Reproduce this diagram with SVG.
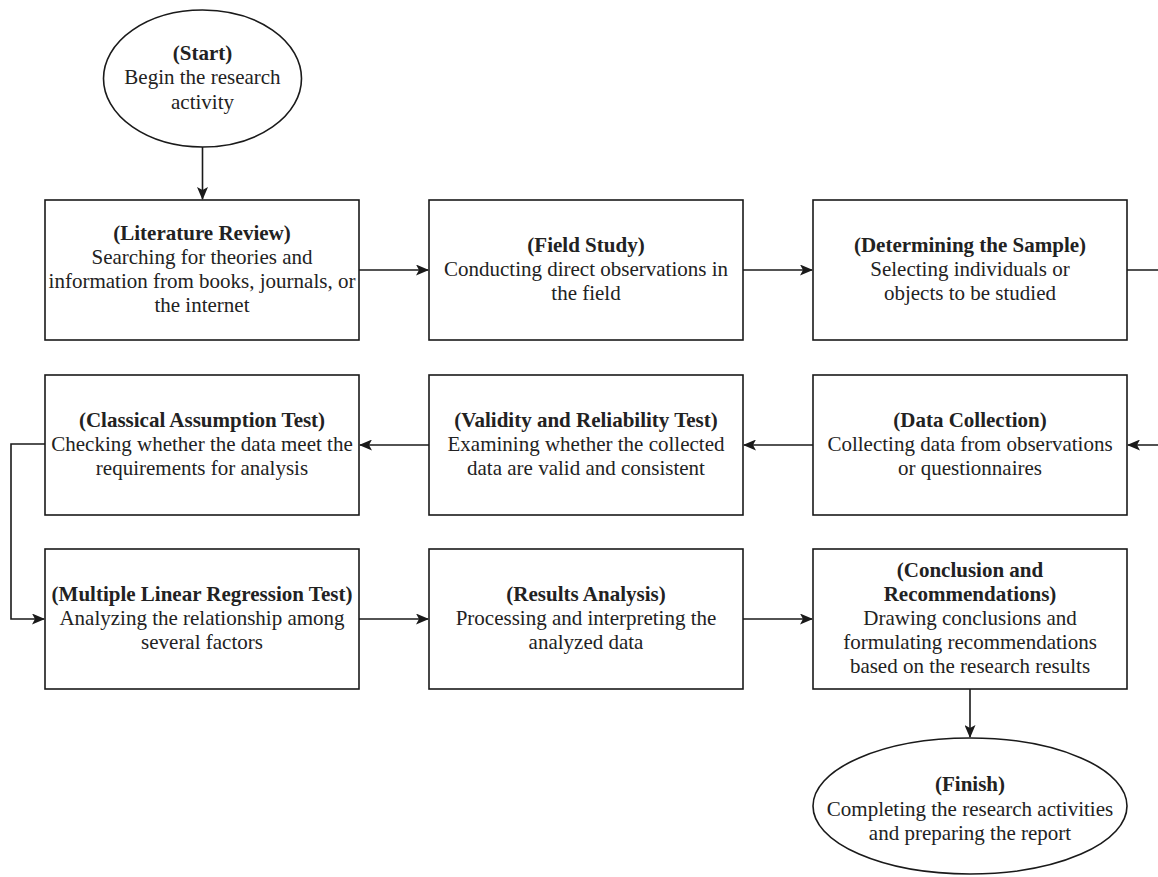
<svg xmlns="http://www.w3.org/2000/svg" width="1158" height="877" viewBox="0 0 1158 877">
<defs>
<style>
.shape{fill:#fff;stroke:#1a1a1a;stroke-width:1.6}
.conn{fill:none;stroke:#1a1a1a;stroke-width:1.6}
text{font-family:"Liberation Serif","Times New Roman",serif;font-size:21px;fill:#222;text-anchor:middle}
.b{font-weight:bold}
</style>
<marker id="arr" viewBox="0 0 13 11" refX="12" refY="5.5" markerWidth="13" markerHeight="11" markerUnits="userSpaceOnUse" orient="auto">
<path d="M0,0 L13,5.5 L0,11 L3,5.5 Z" fill="#1a1a1a"/>
</marker>
</defs>
<rect width="1158" height="877" fill="#fff"/>
<g id="connectors">
<path class="conn" d="M202.5,147 V199" marker-end="url(#arr)"/>
<path class="conn" d="M359,270 H428" marker-end="url(#arr)"/>
<path class="conn" d="M743,270 H812" marker-end="url(#arr)"/>
<path class="conn" d="M1127,270 H1175 V445 H1128" marker-end="url(#arr)"/>
<path class="conn" d="M813,445 H744" marker-end="url(#arr)"/>
<path class="conn" d="M429,445 H360" marker-end="url(#arr)"/>
<path class="conn" d="M45,444 H11 V619 H44" marker-end="url(#arr)"/>
<path class="conn" d="M359,619 H428" marker-end="url(#arr)"/>
<path class="conn" d="M743,619 H812" marker-end="url(#arr)"/>
<path class="conn" d="M970,689 V737" marker-end="url(#arr)"/>
</g>
<g id="start">
<ellipse class="shape" cx="202.5" cy="78.5" rx="99" ry="68.5"/>
<text x="202.5" y="60" class="b">(Start)</text>
<text x="202.5" y="84">Begin the research</text>
<text x="202.5" y="109">activity</text>
</g>
<g id="literature-review">
<rect class="shape" x="45" y="200" width="314" height="140"/>
<text x="202" y="240" class="b">(Literature Review)</text>
<text x="202" y="264">Searching for theories and</text>
<text x="202" y="288">information from books, journals, or</text>
<text x="202" y="312">the internet</text>
</g>
<g id="field-study">
<rect class="shape" x="429" y="200" width="314" height="140"/>
<text x="586" y="252" class="b">(Field Study)</text>
<text x="586" y="276">Conducting direct observations in</text>
<text x="586" y="300">the field</text>
</g>
<g id="determining-sample">
<rect class="shape" x="813" y="200" width="314" height="140"/>
<text x="970" y="252" class="b">(Determining the Sample)</text>
<text x="970" y="276">Selecting individuals or</text>
<text x="970" y="300">objects to be studied</text>
</g>
<g id="data-collection">
<rect class="shape" x="813" y="375" width="314" height="140"/>
<text x="970" y="427" class="b">(Data Collection)</text>
<text x="970" y="451">Collecting data from observations</text>
<text x="970" y="475">or questionnaires</text>
</g>
<g id="validity-reliability">
<rect class="shape" x="429" y="375" width="314" height="140"/>
<text x="586" y="427" class="b">(Validity and Reliability Test)</text>
<text x="586" y="451">Examining whether the collected</text>
<text x="586" y="475">data are valid and consistent</text>
</g>
<g id="classical-assumption">
<rect class="shape" x="45" y="375" width="314" height="140"/>
<text x="202" y="427" class="b">(Classical Assumption Test)</text>
<text x="202" y="451">Checking whether the data meet the</text>
<text x="202" y="475">requirements for analysis</text>
</g>
<g id="multiple-regression">
<rect class="shape" x="45" y="549" width="314" height="140"/>
<text x="202" y="601" class="b">(Multiple Linear Regression Test)</text>
<text x="202" y="625">Analyzing the relationship among</text>
<text x="202" y="649">several factors</text>
</g>
<g id="results-analysis">
<rect class="shape" x="429" y="549" width="314" height="140"/>
<text x="586" y="601" class="b">(Results Analysis)</text>
<text x="586" y="625">Processing and interpreting the</text>
<text x="586" y="649">analyzed data</text>
</g>
<g id="conclusion">
<rect class="shape" x="813" y="549" width="314" height="140"/>
<text x="970" y="577" class="b">(Conclusion and</text>
<text x="970" y="601" class="b">Recommendations)</text>
<text x="970" y="625">Drawing conclusions and</text>
<text x="970" y="649">formulating recommendations</text>
<text x="970" y="673">based on the research results</text>
</g>
<g id="finish">
<ellipse class="shape" cx="970" cy="806" rx="157" ry="68"/>
<text x="970" y="791" class="b">(Finish)</text>
<text x="970" y="816">Completing the research activities</text>
<text x="970" y="840">and preparing the report</text>
</g>
</svg>
